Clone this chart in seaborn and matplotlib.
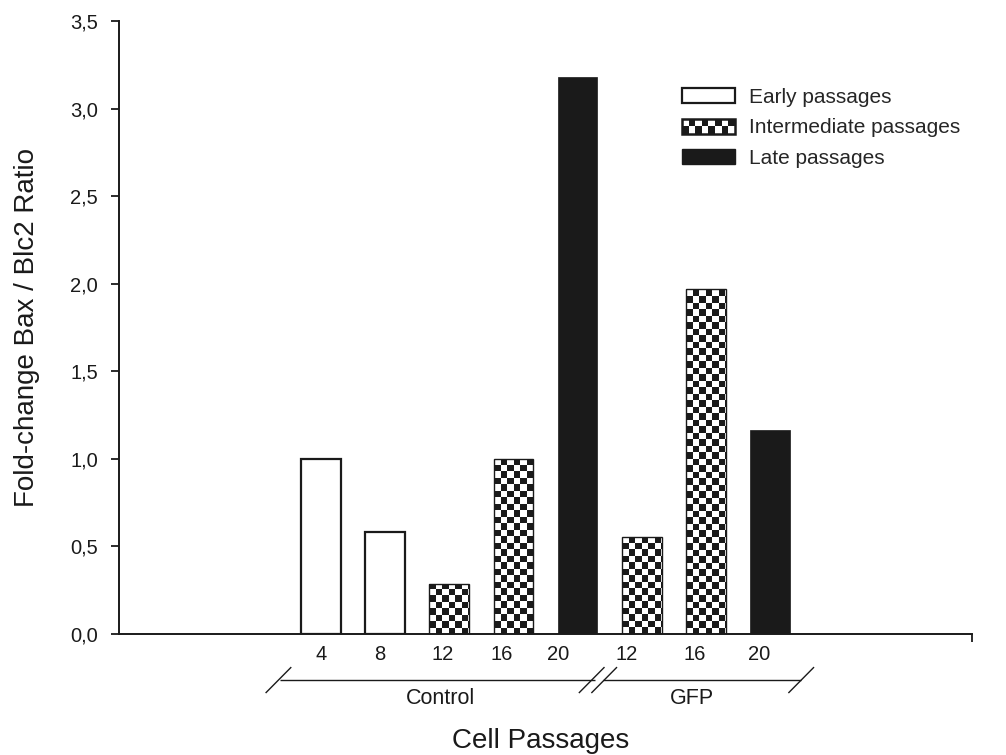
import numpy as np
import pandas as pd
import matplotlib
matplotlib.use("Agg")
import matplotlib.pyplot as plt
import seaborn as sns
from matplotlib.patches import Rectangle, Patch
from matplotlib.legend_handler import HandlerBase
from matplotlib.colors import ListedColormap

# ---------------- data ----------------
groups = ["Control", "Control", "Control", "Control", "Control", "GFP", "GFP", "GFP"]
passages = ["4", "8", "12", "16", "20", "12", "16", "20"]
stages = ["Early", "Early", "Intermediate", "Intermediate", "Late",
          "Intermediate", "Intermediate", "Late"]
fold_change = [1.00, 0.58, 0.285, 1.00, 3.18, 0.555, 1.97, 1.165]
stage_order = ["Early", "Intermediate", "Late"]
stage_labels = ["Early passages", "Intermediate passages", "Late passages"]
y_ticks = [0.0, 0.5, 1.0, 1.5, 2.0, 2.5, 3.0, 3.5]
group_names = ["Control", "GFP"]

keys = [f"{g} {p}" for g, p in zip(groups, passages)]
df = pd.DataFrame({"key": keys, "group": groups, "passage": passages,
                   "stage": stages, "value": fold_change})

# ---------------- style ----------------
sns.set_theme(style="white")
plt.rcParams["font.family"] = ["Liberation Sans", "DejaVu Sans"]
BLACK = "#1a1a1a"

fig = plt.figure(figsize=(10.06, 7.55), dpi=100)
W, H = 1006, 755
ax = fig.add_axes([119 / W, 1 - 634 / H, (972 - 119) / W, (634 - 21) / H])

sns.barplot(data=df, x="key", y="value", hue="stage", order=keys,
            hue_order=stage_order, dodge=False, width=0.62, errorbar=None,
            palette={"Early": "white", "Intermediate": "white", "Late": BLACK},
            saturation=1, legend=False, ax=ax)

checker_cmap = ListedColormap(["white", BLACK])
cell_w, cell_h = 0.101, 0.037
for p in list(ax.patches):
    if p.get_height() <= 0:
        continue
    i = int(round(p.get_x() + p.get_width() / 2))
    st = stages[i]
    if st == "Early":
        p.set_facecolor("white")
        p.set_edgecolor(BLACK)
        p.set_linewidth(1.6)
    elif st == "Late":
        p.set_facecolor(BLACK)
        p.set_edgecolor(BLACK)
        p.set_linewidth(0.5)
    else:
        p.set_facecolor("white")
        p.set_edgecolor("none")
        x0, w, h = p.get_x(), p.get_width(), p.get_height()
        nx = int(np.ceil(w / cell_w))
        ny = int(np.ceil(h / cell_h))
        arr = np.add.outer(np.arange(ny), np.arange(nx)) % 2
        im = ax.imshow(arr, cmap=checker_cmap, vmin=0, vmax=1,
                       extent=[x0, x0 + nx * cell_w, 0, ny * cell_h],
                       origin="lower", aspect="auto", interpolation="nearest",
                       zorder=p.get_zorder() + 0.1)
        im.set_clip_path(p)
        ax.add_patch(Rectangle((x0, 0), w, h, fill=False, edgecolor=BLACK,
                               linewidth=1.0, zorder=p.get_zorder() + 0.2))

ax.set_xlim(-3.15, 10.15)
ax.set_ylim(0, 3.5)
ax.set_aspect("auto")

# y axis
ax.set_yticks(y_ticks, labels=[f"{v:.1f}".replace(".", ",") for v in y_ticks])
ax.tick_params(axis="y", direction="out", length=6, width=1.3, labelsize=14.5,
               pad=9, colors=BLACK, left=True)
# x axis: labels under bars, slight leftward offsets as in the original
label_offsets = [0.0, -0.09, -0.11, -0.19, -0.30, -0.23, -0.17, -0.17]
ax.set_xticks([i + o for i, o in enumerate(label_offsets)], labels=passages)
ax.tick_params(axis="x", which="major", length=0, labelsize=14.5, pad=8,
               colors=BLACK)
ax.set_xticks([10.15], minor=True)
ax.tick_params(axis="x", which="minor", direction="out", length=6, width=1.3,
               bottom=True, colors=BLACK)
ax.set_xlabel("")
ax.set_ylabel("")

for s in ["top", "right"]:
    ax.spines[s].set_visible(False)
for s in ["left", "bottom"]:
    ax.spines[s].set_linewidth(1.4)
    ax.spines[s].set_color(BLACK)

# group brackets (decorations below the tick labels)
line_y = -0.263
sl_dx, sl_dy = 0.20, 0.074
kw = dict(color=BLACK, lw=1.0, clip_on=False, solid_capstyle="butt")
def slash(cx):
    ax.plot([cx - sl_dx, cx + sl_dx], [line_y - sl_dy, line_y + sl_dy], **kw)
ax.plot([-0.64, 4.27], [line_y, line_y], **kw)
ax.plot([4.40, 7.49], [line_y, line_y], **kw)
for cx in [-0.664, 4.22, 4.415, 7.487]:
    slash(cx)
ax.text(1.86, -0.366, group_names[0], ha="center", va="center", fontsize=15.5,
        color=BLACK, clip_on=False)
ax.text(5.79, -0.366, group_names[1], ha="center", va="center", fontsize=15.5,
        color=BLACK, clip_on=False)

# axis titles
fig.text(541 / W, 1 - 741 / H, "Cell Passages", ha="center", va="center",
         fontsize=20, color=BLACK)
fig.text(27 / W, 1 - 327 / H, "Fold-change Bax / Blc2 Ratio", ha="center",
         va="center", rotation=90, fontsize=20, color=BLACK)

# legend
class CheckerHandler(HandlerBase):
    def create_artists(self, legend, orig_handle, xdescent, ydescent, width,
                       height, fontsize, trans):
        arts = [Rectangle((-xdescent, -ydescent), width, height,
                          facecolor="white", edgecolor="none", transform=trans)]
        nx, ny = 8, 2
        cw, ch = width / nx, height / ny
        for i in range(nx):
            for j in range(ny):
                if (i + j) % 2 == 0:
                    arts.append(Rectangle((-xdescent + i * cw, -ydescent + j * ch),
                                          cw, ch, facecolor=BLACK,
                                          edgecolor="none", transform=trans))
        arts.append(Rectangle((-xdescent, -ydescent), width, height,
                              fill=False, edgecolor=BLACK, linewidth=1.8,
                              transform=trans))
        return arts

h_early = Patch(facecolor="white", edgecolor=BLACK, linewidth=1.6)
h_inter = Patch(facecolor="white", edgecolor=BLACK)
h_late = Patch(facecolor=BLACK, edgecolor=BLACK)
fig.legend([h_early, h_inter, h_late], stage_labels, loc="upper left",
           bbox_to_anchor=(682 / W, 1 - 88 / H), frameon=False, fontsize=15,
           handlelength=2.54, handleheight=0.72, handletextpad=0.67,
           labelspacing=0.55, borderpad=0, borderaxespad=0,
           handler_map={h_inter: CheckerHandler()})

fig.savefig("out.png", dpi=100, facecolor="white")
